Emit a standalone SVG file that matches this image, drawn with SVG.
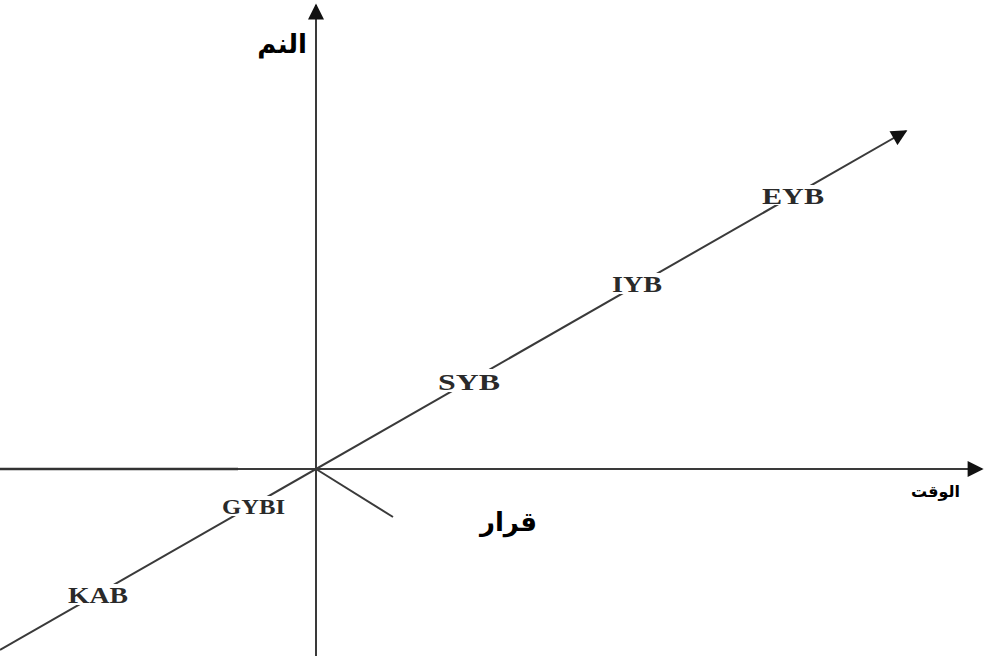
<svg xmlns="http://www.w3.org/2000/svg" width="984" height="656" viewBox="0 0 984 656">
<style>
.ax{stroke:#3a3a3a;stroke-width:2;fill:none}
.lbl{font-family:"Liberation Serif","DejaVu Serif",serif;font-size:23px;font-weight:bold;fill:#2a2a2a}
.ar{font-family:"DejaVu Sans","Noto Sans",sans-serif;font-weight:bold;fill:#000}
.bg{fill:#fff}
</style>
<defs>
<marker id="ahL" viewBox="0 0 10 10" refX="9" refY="5" markerWidth="18" markerHeight="16" markerUnits="userSpaceOnUse" orient="auto">
<path d="M0,0 L10,5 L0,10 z" fill="#111"/>
</marker>
</defs>
<rect width="984" height="656" fill="#fff"/>
<g id="connectors">
<line class="ax" x1="316" y1="656" x2="316" y2="5" marker-end="url(#ahL)"/>
<line class="ax" x1="0" y1="469" x2="982" y2="469" marker-end="url(#ahL)"/>
<line x1="0" y1="469" x2="238" y2="469" stroke="#333" stroke-width="2.5"/>
<line class="ax" x1="0" y1="650" x2="906" y2="131" marker-end="url(#ahL)"/>
<line class="ax" x1="316" y1="469" x2="393" y2="517"/>
</g>
<g id="EYB"><rect class="bg" x="760" y="185" width="66" height="20"/><text class="lbl" x="762" y="204" textLength="62" lengthAdjust="spacingAndGlyphs">EYB</text></g>
<g id="IYB"><rect class="bg" x="609" y="273" width="56" height="21"/><text class="lbl" x="612" y="292" textLength="50" lengthAdjust="spacingAndGlyphs">IYB</text></g>
<g id="SYB"><rect class="bg" x="436" y="369" width="66" height="23"/><text class="lbl" x="438" y="390" textLength="62" lengthAdjust="spacingAndGlyphs">SYB</text></g>
<g id="GYBI"><rect class="bg" x="220" y="496" width="68" height="20"/><text class="lbl" x="222" y="514" textLength="63" lengthAdjust="spacingAndGlyphs" style="font-size:20px">GYBI</text></g>
<g id="KAB"><rect class="bg" x="66" y="584" width="64" height="21"/><text class="lbl" x="68" y="603" textLength="60" lengthAdjust="spacingAndGlyphs">KAB</text></g>
<g id="y-label"><text class="ar" x="307" y="53" text-anchor="end" font-size="26">النم</text></g>
<g id="x-label"><text class="ar" x="960" y="497" text-anchor="end" font-size="16">الوقت</text></g>
<g id="decision"><text class="ar" x="537" y="531" text-anchor="end" font-size="26">قرار</text></g>
</svg>
